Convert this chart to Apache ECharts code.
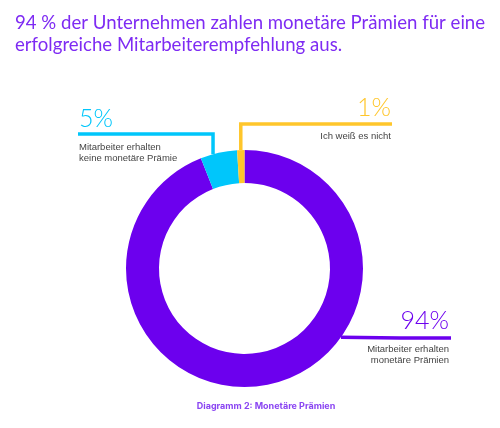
<!DOCTYPE html>
<html>
<head>
    <meta charset="UTF-8">
    <title>Monetäre Prämien</title>
    <script src="https://cdn.jsdelivr.net/npm/echarts@6/dist/echarts.min.js"></script>
    <style>
        * { margin: 0; padding: 0; box-sizing: border-box; }
        html, body { width: 500px; height: 428px; background: #fff; }
        #chart { width: 500px; height: 428px; }
    </style>
</head>
<body>
    <div id="chart"></div>
    <script>
        // Werte aus dem Diagramm
        const names = ['Mitarbeiter erhalten\nmonetäre Prämien', 'Mitarbeiter erhalten\nkeine monetäre Prämie', 'Ich weiß es nicht'];
        const values = [94, 5, 1];
        const colors = ['#6C00EE', '#00C6FB', '#FFC62B'];

        const titleText = '94 % der Unternehmen zahlen monetäre Prämien für eine\nerfolgreiche Mitarbeiterempfehlung aus.';
        const captionText = 'Diagramm 2: Monetäre Prämien';

        const cx = 244.5, cy = 268.5, rIn = 85.5, rOut = 118.5;

        // Punkt auf dem Außenring, Winkel im Uhrzeigersinn ab 12 Uhr
        function ringPoint(deg) {
            const a = deg * Math.PI / 180;
            return [cx + rOut * Math.sin(a), cy - rOut * Math.cos(a)];
        }

        const chart = echarts.init(document.getElementById('chart'));

        const option = {
            animation: false,
            title: [{
                text: titleText,
                left: 10,
                top: 7,
                textStyle: {
                    color: '#7E2BF3',
                    fontSize: 18.6,
                    fontWeight: 'normal',
                    lineHeight: 22,
                    fontFamily: 'Lato, "Noto Sans", sans-serif'
                }
            }, {
                text: captionText,
                left: 261,
                textAlign: 'center',
                top: 397,
                textStyle: {
                    color: '#8A45F2',
                    fontSize: 9,
                    fontWeight: 'bold',
                    fontFamily: 'Inter, "Noto Sans", sans-serif'
                }
            }],
            series: [{
                type: 'pie',
                center: [cx, cy],
                radius: [rIn, rOut],
                startAngle: 90,
                clockwise: true,
                silent: true,
                data: values.map((v, i) => ({
                    name: names[i],
                    value: v,
                    itemStyle: { color: colors[i] },
                    label: { rich: { pct: { color: colors[i] } } }
                })),
                label: {
                    show: true,
                    position: 'outside',
                    formatter: function (p) {
                        const lines = p.name.split('\n').map(s => '{desc|' + s + '}');
                        return '{pct|' + p.value + '%}\n{gap| }\n' + lines.join('\n');
                    },
                    rich: {
                        pct: {
                            fontSize: 25,
                            lineHeight: 30,
                            fontWeight: 300,
                            fontFamily: 'Lato, "Open Sans", sans-serif'
                        },
                        gap: { fontSize: 1, lineHeight: 8 },
                        desc: {
                            fontSize: 9.5,
                            lineHeight: 11,
                            color: '#444',
                            fontFamily: '"Liberation Sans", Arial, sans-serif'
                        }
                    }
                },
                labelLine: {
                    show: true,
                    lineStyle: { width: 3.5, cap: 'butt' }
                },
                labelLayout: function (params) {
                    const i = params.dataIndex;
                    if (i === 1) {
                        const p0 = ringPoint(344.6);
                        return {
                            x: 79, y: 104, align: 'left', verticalAlign: 'top',
                            labelLinePoints: [p0, [p0[0], 134], [78, 134]]
                        };
                    }
                    if (i === 2) {
                        const p0 = ringPoint(358.2);
                        return {
                            x: 391, y: 92.5, align: 'right', verticalAlign: 'top',
                            labelLinePoints: [p0, [p0[0], 124], [392, 124]]
                        };
                    }
                    const p0 = ringPoint(125.5);
                    return {
                        x: 449, y: 306, align: 'right', verticalAlign: 'top',
                        labelLinePoints: [p0, [400, 338], [451, 338]]
                    };
                }
            }]
        };

        chart.setOption(option);
    </script>
</body>
</html>
